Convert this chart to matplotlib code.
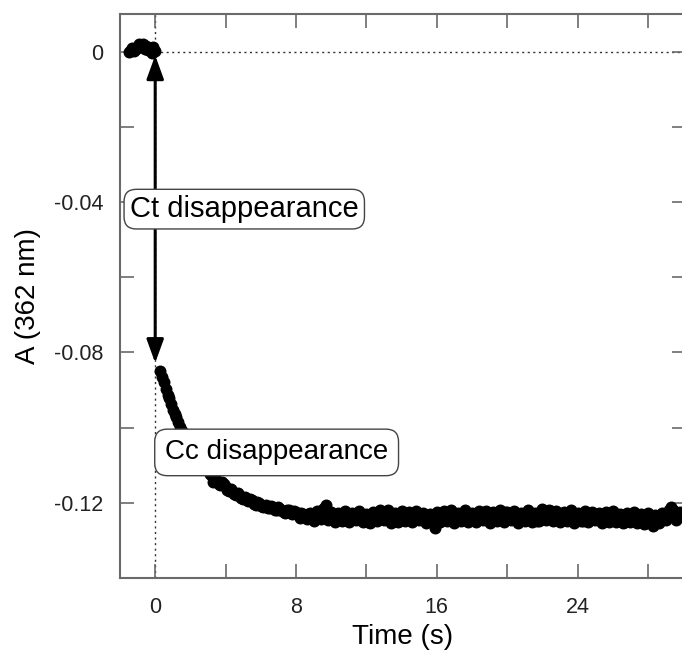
import numpy as np
import matplotlib
matplotlib.use("Agg")
import matplotlib.pyplot as plt
from matplotlib.patches import ArrowStyle

plt.rcParams['font.family'] = ['Liberation Sans', 'DejaVu Sans']

# pre-mixing baseline (time s, absorbance)
t_pre = [-1.5, -1.4, -1.3, -1.2, -1.1, -1.0, -0.9, -0.8,
         -0.7, -0.6, -0.5, -0.4, -0.3, -0.2, -0.1, 0.0]
a_pre = [-0.0002, 0.0004, 0.0009, 0.0001, 0.0006, 0.0014, 0.0019, 0.0012,
         0.0021, 0.0008, 0.0015, 0.0003, 0.0010, -0.0004, 0.0011, 0.0002]

# after mixing: samples every 0.1 s, read as two interleaved sets
# set A: 0.3, 0.5, ... 29.9 s ; set B: 0.4, 0.6, ... 29.8 s (values in mA units)
a_even_milli = [
    # decay, 0.3 - 7.9 s
    -85.0, -88.0, -91.2, -93.6, -96.4, -98.5, -100.8, -102.4, -104.5, -105.8,
    -107.6, -108.6, -110.1, -111.0, -112.4, -114.6, -114.1, -115.3, -115.0, -116.6,
    -116.4, -117.7, -117.5, -118.8, -118.4, -119.6, -119.3, -120.5, -120.0, -121.1,
    -120.6, -121.5, -121.0, -122.0, -121.6, -122.4, -121.9, -122.8, -122.3,
    # plateau, 8.1 - 29.9 s
    -123.2, -122.6, -123.5, -123.0, -123.9, -123.4, -122.8, -121.9, -120.6, -123.0,
    -123.8, -124.5, -123.9, -124.6, -123.7, -124.3, -123.5, -122.9, -123.6, -124.4,
    -125.0, -124.2, -123.6, -124.1, -123.3, -122.7, -123.4, -124.2, -124.8, -124.0,
    -123.3, -122.8, -123.5, -124.3, -123.7, -123.0, -123.8, -124.6, -125.1, -126.8,
    -124.5, -123.6, -123.0, -123.7, -124.4, -123.8, -123.1, -122.6, -123.3, -124.1,
    -124.7, -124.0, -123.2, -122.5, -123.1, -123.9, -124.5, -123.8, -123.0, -122.4,
    -123.0, -123.8, -124.6, -124.1, -123.4, -122.7, -123.3, -124.0, -124.8, -124.2,
    -123.5, -122.6, -122.1, -123.0, -123.8, -124.5, -123.9, -123.1, -122.8, -123.6,
    -124.3, -124.9, -124.1, -123.4, -122.9, -123.5, -124.2, -124.8, -124.0, -123.3,
    -123.0, -123.7, -124.4, -125.0, -124.3, -123.7, -123.4, -124.1, -124.8, -125.3,
    -124.6, -126.2, -125.0, -124.2, -123.6, -122.8, -121.2, -122.3, -123.5, -123.0,
]
a_odd_milli = [
    # decay, 0.4 - 7.8 s
    -86.6, -89.7, -92.2, -95.2, -97.3, -99.8, -101.4, -103.6, -104.9, -106.9,
    -108.4, -109.2, -110.8, -111.5, -113.0, -113.2, -114.9, -114.5, -115.9, -116.9,
    -117.0, -117.9, -118.3, -118.9, -119.2, -119.0, -120.3, -119.9, -120.8, -120.9,
    -121.3, -120.8, -121.9, -121.2, -122.3, -122.7, -122.0, -122.9,
    # plateau, 8.0 - 29.8 s
    -122.5, -124.1, -122.9, -124.4, -122.6, -124.8, -122.3, -124.2, -121.5, -124.6,
    -122.4, -125.0, -122.7, -124.9, -122.2, -125.2, -122.8, -124.7, -122.1, -125.1,
    -122.9, -125.4, -122.5, -124.8, -122.0, -124.6, -121.9, -125.3, -122.7, -125.0,
    -122.2, -124.9, -122.4, -125.2, -122.1, -124.7, -122.6, -125.4, -122.9, -125.0,
    -122.5, -125.1, -122.2, -124.8, -121.9, -125.3, -122.6, -124.9, -122.0, -125.2,
    -122.7, -125.0, -122.3, -124.6, -122.1, -125.3, -122.5, -124.9, -121.8, -125.1,
    -122.4, -124.7, -122.2, -125.4, -122.6, -124.9, -121.9, -125.2, -122.7, -124.8,
    -121.6, -124.5, -121.9, -124.9, -122.3, -125.2, -122.5, -124.8, -122.0, -125.3,
    -122.6, -124.9, -122.3, -125.1, -122.4, -124.7, -122.8, -125.4, -122.5, -125.0,
    -122.2, -125.2, -122.9, -125.5, -122.7, -125.0, -122.4, -125.3, -123.1, -125.6,
    -122.8, -125.1, -123.3, -125.4, -122.6, -124.7, -121.8, -122.0, -124.6, -122.4,
]
a_even = np.array(a_even_milli) / 1000.0
a_odd = np.array(a_odd_milli) / 1000.0
t_even = 0.3 + 0.2 * np.arange(len(a_even))
t_odd = 0.4 + 0.2 * np.arange(len(a_odd))

x_ticks = [0, 4, 8, 12, 16, 20, 24, 28]
x_labels = ['0', '', '8', '', '16', '', '24', '']
y_ticks = [-0.14, -0.12, -0.10, -0.08, -0.06, -0.04, -0.02, 0.0]
y_labels = ['', '-0.12', '', '-0.08', '', '-0.04', '', '0']

axis_gray = '#6a6a6a'

fig = plt.figure(figsize=(6.82, 6.52), dpi=100)
# right spine sits just past the figure edge, as in the cropped original
ax = fig.add_axes([120 / 682, 74 / 652, 566 / 682, 564 / 652])

# reference lines
ax.hlines(0, 0, 31, colors='#333333', linestyles=(0, (1.5, 2.5)), lw=1.0, zorder=1)
ax.axvline(0, color='#333333', ls=(0, (1.5, 2.5)), lw=1.0, zorder=1)

ax.plot(t_pre, a_pre, 'o', color='black', ms=7.6, mec='black', zorder=3)
ax.plot(t_even, a_even, 'o', color='black', ms=7.6, mec='black', zorder=3)
ax.plot(t_odd, a_odd, 'o', color='black', ms=7.6, mec='black', zorder=3)

# double arrow for the Ct amplitude
ax.annotate('', xy=(0, -0.001), xytext=(0, -0.0828),
            arrowprops=dict(arrowstyle=ArrowStyle('<|-|>', head_length=0.55, head_width=0.2),
                            lw=2.2, color='black', mutation_scale=26,
                            shrinkA=0, shrinkB=0),
            zorder=4)

ax.text(5.06, -0.0419, 'Ct disappearance', fontsize=21, ha='center', va='center',
        zorder=6,
        bbox=dict(boxstyle='round,pad=0.2,rounding_size=0.42', fc='white',
                  ec='#444444', lw=1.0))
ax.text(6.9, -0.1066, 'Cc disappearance', fontsize=20, ha='center', va='center',
        zorder=6,
        bbox=dict(boxstyle='round,pad=0.37,rounding_size=0.45', fc='white',
                  ec='#444444', lw=1.0))

ax.set_xlim(-2, 30.16)
ax.set_ylim(-0.14, 0.01)
ax.set_xticks(x_ticks)
ax.set_xticklabels(x_labels)
ax.set_yticks(y_ticks)
ax.set_yticklabels(y_labels)

ax.tick_params(direction='in', length=10, width=1.2, color=axis_gray,
               top=True, right=True, labelsize=15.5, labelcolor='#222222')
ax.tick_params(axis='x', pad=14)
ax.tick_params(axis='y', pad=12)
for s in ax.spines.values():
    s.set_color(axis_gray)
    s.set_linewidth(1.5)

ax.set_xlabel('Time (s)', fontsize=20, labelpad=4)
ax.set_ylabel('A (362 nm)', fontsize=20, labelpad=9)

fig.savefig('out.png', dpi=100)
